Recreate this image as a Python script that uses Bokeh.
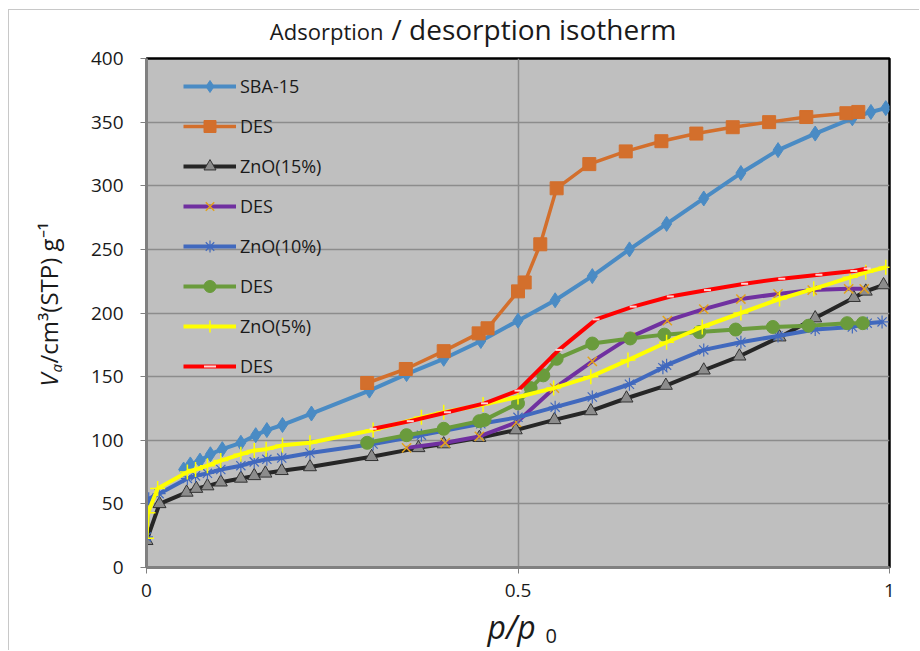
from bokeh.plotting import figure
from bokeh.models import Range1d, FixedTicker, Title, Legend, LegendItem
from bokeh.embed import file_html
from bokeh.resources import INLINE

# ---------------- data ----------------
sba_x = [0.05, 0.059, 0.072, 0.086, 0.102, 0.127, 0.147, 0.162, 0.183, 0.222, 0.30, 0.35, 0.40,
         0.45, 0.50, 0.55, 0.60, 0.65, 0.70, 0.75, 0.80, 0.85, 0.90, 0.95, 0.975, 0.995]
sba_y = [77, 81, 84, 89, 93, 98, 104, 108, 112, 121, 139, 152, 164,
         178, 194, 210, 229, 250, 270, 290, 310, 328, 341, 353, 358, 361]

sba_des_x = [0.297, 0.349, 0.40, 0.447, 0.459, 0.50, 0.509, 0.53, 0.552, 0.596, 0.645, 0.693,
             0.74, 0.789, 0.838, 0.888, 0.942, 0.958]
sba_des_y = [145, 156, 170, 184, 188, 217, 224, 254, 298, 317, 327, 335,
             341, 346, 350, 354, 357, 358]

zn15_x = [0.0, 0.0175, 0.054, 0.067, 0.082, 0.10, 0.127, 0.145, 0.16, 0.182, 0.22, 0.303, 0.366,
          0.40, 0.448, 0.497, 0.549, 0.598, 0.646, 0.699, 0.75, 0.798, 0.852, 0.90, 0.952, 0.968, 0.992]
zn15_y = [21, 50, 59, 62, 64, 67, 70, 72, 74, 76, 79, 87, 94,
          97, 102, 108, 116, 123, 133, 143, 155, 166, 181, 196, 212, 217, 222]

zn15_des_x = [0.35, 0.402, 0.448, 0.498, 0.549, 0.60, 0.651, 0.701, 0.75, 0.80, 0.85, 0.896, 0.945, 0.966]
zn15_des_y = [94, 98, 103, 114, 141, 162, 181, 194, 203, 211, 215, 218, 219, 219]

zn10_x = [0.0, 0.003, 0.017, 0.055, 0.066, 0.082, 0.10, 0.127, 0.145, 0.162, 0.182, 0.22, 0.305,
          0.37, 0.45, 0.50, 0.55, 0.60, 0.65, 0.695, 0.70, 0.75, 0.80, 0.85, 0.90, 0.95, 0.97, 0.99]
zn10_y = [24, 54, 58, 70, 72, 74, 77, 80, 83, 85, 86, 90, 97,
          104, 113, 118, 126, 134, 144, 157, 159, 171, 177, 182, 187, 189, 192, 193]

zn10_des_x = [0.297, 0.35, 0.40, 0.448, 0.455, 0.50, 0.517, 0.534, 0.552, 0.60, 0.651, 0.697,
              0.744, 0.793, 0.843, 0.891, 0.943, 0.964]
zn10_des_y = [98, 104, 109, 115, 116, 129, 141, 151, 164, 176, 180, 183,
              185, 187, 189, 190, 192, 192]

zn5_x = [0.0, 0.002, 0.015, 0.055, 0.066, 0.082, 0.10, 0.127, 0.145, 0.161, 0.183, 0.22, 0.305,
         0.37, 0.40, 0.453, 0.50, 0.548, 0.598, 0.648, 0.70, 0.748, 0.80, 0.852, 0.898, 0.947, 0.968, 0.995]
zn5_y = [23, 43, 62, 75, 77, 80, 84, 89, 92, 93, 96, 98, 108,
         118, 122, 128, 134, 141, 150, 163, 177, 189, 200, 211, 219, 228, 232, 236]

zn5_des_x = [0.305, 0.355, 0.405, 0.455, 0.50, 0.555, 0.605, 0.655, 0.705, 0.755, 0.805, 0.855,
             0.905, 0.952, 0.97]
zn5_des_y = [109, 115, 122, 129, 139, 171, 195, 205, 213, 218, 223, 227, 230, 233, 235]

y_ticks = [0, 50, 100, 150, 200, 250, 300, 350, 400]
x_ticks = [0, 0.5, 1]
x_tick_labels = ["0", "0.5", "1"]
series_labels = ["SBA-15", "DES", "ZnO(15%)", "DES", "ZnO(10%)", "DES", "ZnO(5%)", "DES"]

FONT = "Open Sans"

# ---------------- figure ----------------
p = figure(width=911, height=641, output_backend="svg", toolbar_location=None, title=None,
           x_range=Range1d(0, 1), y_range=Range1d(0, 400),
           min_border_left=137, min_border_right=31, min_border_top=48, min_border_bottom=84,
           styles={"margin-left": "8px", "margin-top": "9px",
                   "border-left": "1px solid #C8C8C8", "border-top": "1px solid #C8C8C8"})

p.background_fill_color = "#BFBFBF"
p.border_fill_color = "white"
p.outline_line_color = "black"
p.outline_line_width = 2.5

p.xaxis.ticker = FixedTicker(ticks=x_ticks)
p.xaxis.major_label_overrides = {t: s for t, s in zip(x_ticks, x_tick_labels)}
p.yaxis.ticker = FixedTicker(ticks=y_ticks)
for ax in (p.xaxis, p.yaxis):
    ax.axis_line_color = "#808080"
    ax.axis_line_width = 3
    ax.major_tick_line_color = "#808080"
    ax.major_tick_in = 0
    ax.major_tick_out = 6
    ax.minor_tick_line_color = None
    ax.major_label_text_font = FONT
    ax.major_label_text_font_size = "19px"
    ax.major_label_text_color = "#1a1a1a"
p.xaxis.major_label_standoff = 10
p.yaxis.major_label_standoff = 17

p.xgrid.grid_line_color = "#8C8C8C"
p.ygrid.grid_line_color = "#8C8C8C"
p.xgrid.grid_line_width = 1.5
p.ygrid.grid_line_width = 1.5

# ---------------- series ----------------
def series(x, y, line_color, marker, m_fill, m_line, size, lw=4, mlw=1.0):
    l = p.line(x, y, line_color=line_color, line_width=lw)
    s = p.scatter(x, y, marker=marker, size=size, fill_color=m_fill, line_color=m_line, line_width=mlw)
    return [l, s]

r1 = series(sba_x, sba_y, "#4A8BC4", "diamond", "#4A8BC4", "#4A8BC4", 15)
r2 = series(sba_des_x, sba_des_y, "#D36F2C", "square", "#D36F2C", "#D36F2C", 13, lw=3.5)
r3 = series(zn15_x, zn15_y, "#262626", "triangle", "#8C8C8C", "#333333", 13)
r4 = series(zn15_des_x, zn15_des_y, "#7030A0", "x", None, "#E3A21A", 13, mlw=1.5)
r5 = series(zn10_x, zn10_y, "#4169BE", "asterisk", None, "#4169BE", 13, mlw=1.2)
r6 = series(zn10_des_x, zn10_des_y, "#6A9B3C", "circle", "#6A9B3C", "#6A9B3C", 13)
r7 = series(zn5_x, zn5_y, "#FFFF00", "cross", None, "#FFFF00", 15, mlw=1.5)
r8 = series(zn5_des_x, zn5_des_y, "#FF0000", "dash", None, "#FFD6D6", 7, mlw=2)

items = [LegendItem(label=lab, renderers=r)
         for lab, r in zip(series_labels, [r1, r2, r3, r4, r5, r6, r7, r8])]
legend = Legend(items=items, location=(37, 186), padding=0, margin=0,
                glyph_width=53, glyph_height=30, label_height=30, spacing=10,
                label_standoff=4, label_text_font=FONT, label_text_font_size="18px",
                label_text_color="#1a1a1a",
                background_fill_alpha=0, border_line_alpha=0)
p.add_layout(legend, "center")

# ---------------- texts: side-panel titles (negative standoff keeps panels thin) ----------------
def ttl(side, text, size, align, valign, offset, standoff, style="normal"):
    p.add_layout(Title(text=text, text_font=FONT, text_font_size=size, text_font_style=style,
                       align=align, vertical_align=valign, offset=offset, standoff=standoff,
                       text_color="#1a1a1a"), side)

# chart title
ttl("above", "/ desorption isotherm", "28px", "left", "top", 245, -98)
ttl("above", "Adsorption", "22px", "right", "top", 506, -85)
# y axis label
ttl("left", "V", "24px", "left", "top", 181, -111, style="italic")
ttl("left", "/cm³(STP) g⁻¹", "24px", "left", "top", 204, -111)
ttl("left", "a", "15px", "left", "top", 195, -84, style="italic")
# x axis label
ttl("below", "p/p", "32px", "left", "bottom", 341, -96, style="italic")
ttl("below", "0", "20px", "left", "bottom", 399, -86)

open("out.html", "w").write(file_html(p, INLINE))
